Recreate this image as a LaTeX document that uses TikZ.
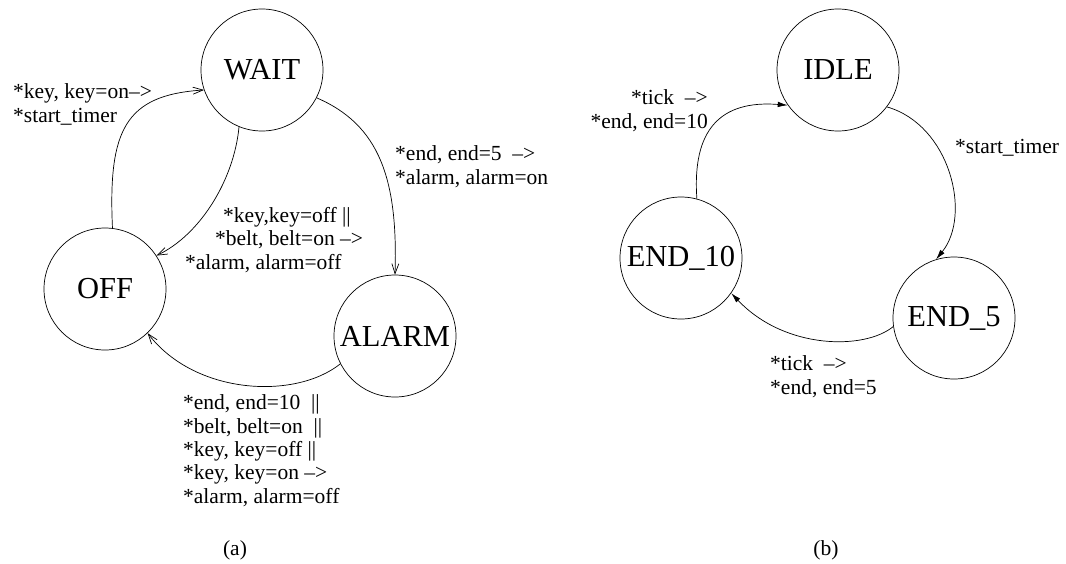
\documentclass[tikz,border=0pt]{standalone}
\usepackage{fontspec}
\setmainfont{Liberation Serif}
\usetikzlibrary{arrows.meta}
\begin{document}
\begin{tikzpicture}[x=1pt,y=-1pt,
  state/.style={draw,circle,minimum size=122pt,inner sep=0pt,line width=0.7pt,font=\fontsize{30.5}{32}\selectfont},
  lbl/.style={inner sep=0pt,font=\fontsize{21.5}{23.3}\selectfont,align=left},
  openedge/.style={line width=0.7pt,-{Straight Barb[length=10pt,width=7pt,line width=0.7pt]}},
  filledge/.style={line width=0.7pt,-{Latex[length=10pt,width=5.5pt]}}]
\useasboundingbox (0,0) rectangle (1066,563);
% (a)
\node[state] (WAIT) at (262,70) {WAIT};
\node[state] (OFF) at (105,289) {OFF};
\node[state] (ALARM) at (395,336) {ALARM};
\draw[openedge] (OFF.83) .. controls (108,130) and (125,95) .. (WAIT.199);
\draw[openedge] (WAIT.248) .. controls (234,180) and (200,235) .. (OFF.33);
\draw[openedge] (WAIT.333) .. controls (380,125) and (398,180) .. (ALARM.90);
\draw[openedge] (ALARM.207) .. controls (295,400) and (195,395) .. (OFF.314);
\node[lbl,anchor=base west] (l1) at (13,122) {*key, key=on-->\\*start\_timer};
\node[lbl,anchor=base west] (l2) at (395,184) {*end, end=5~~-->\\*alarm, alarm=on};
\node[lbl,anchor=base west] (l3) at (185,269) {\hspace*{38pt}*key,key=off ||\\\hspace*{30pt}*belt, belt=on -->\\*alarm, alarm=off};
\node[lbl,anchor=base west] (l4) at (183,503) {*end, end=10~~||\\*belt, belt=on~~||\\*key, key=off ||\\*key, key=on -->\\*alarm, alarm=off};
\node[lbl,anchor=base] (capa) at (235,555) {(a)};
% (b)
\node[state] (IDLE) at (838,70) {IDLE};
\node[state] (END10) at (681,258) {END\_10};
\node[state] (END5) at (954,318) {END\_5};
\draw[filledge] (END10.75) .. controls (692,130) and (720,100) .. (IDLE.215);
\draw[filledge] (IDLE.323) .. controls (950,125) and (972,215) .. (END5.107.5);
\draw[filledge] (END5.188) .. controls (865,350) and (785,350) .. (END10.325);
\node[lbl,anchor=base east,align=right] (l5) at (708,128) {*tick~~-->\\*end, end=10};
\node[lbl,anchor=base west] (l6) at (955,153) {*start\_timer};
\node[lbl,anchor=base west] (l7) at (770,394) {*tick~~-->\\*end, end=5};
\node[lbl,anchor=base] (capb) at (826,555) {(b)};
\end{tikzpicture}
\end{document}
